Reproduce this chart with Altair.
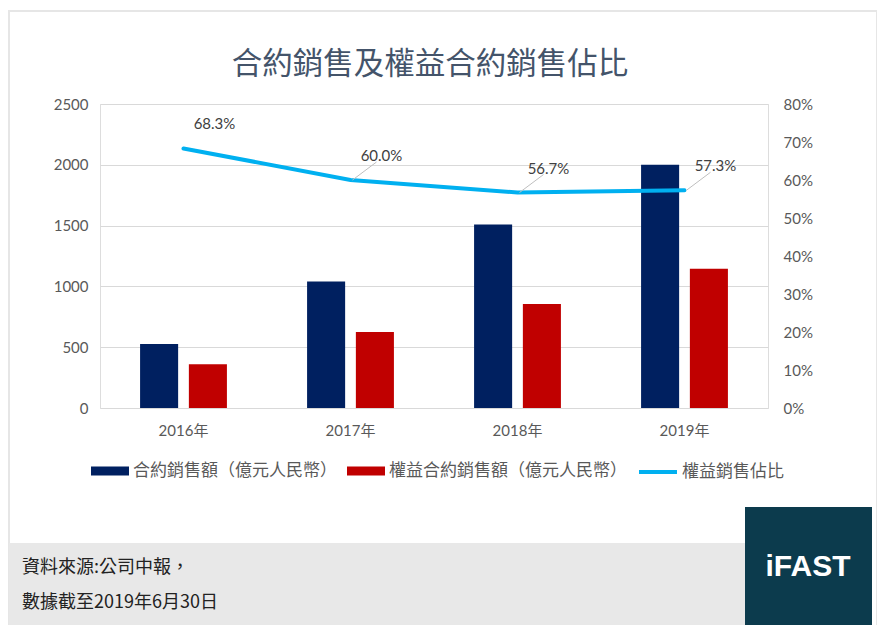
import altair as alt
import pandas as pd

# chart values
years = ["2016年", "2017年", "2018年", "2019年"]
contract_sales = [527, 1040, 1510, 2000]      # 合約銷售額（億元人民幣）
attrib_sales = [360, 624, 856, 1146]          # 權益合約銷售額（億元人民幣）
attrib_ratio = [0.683, 0.600, 0.567, 0.573]   # 權益銷售佔比

bar_names = ["合約銷售額（億元人民幣）", "權益合約銷售額（億元人民幣）"]
bar_colors = ["#002060", "#c00000"]
line_name = "權益銷售佔比"
line_color = "#00b0f0"

title_text = "合約銷售及權益合約銷售佔比"
source_lines = ["資料來源:公司中報，", "數據截至2019年6月30日"]
logo_text = "iFAST"

LATIN = "Lato, 'Noto Sans CJK TC', sans-serif"
CJK = "'Noto Sans CJK TC', sans-serif"
GREY = "#595959"

bar_df = pd.DataFrame({
    "year": years * 2,
    "series": [bar_names[0]] * 4 + [bar_names[1]] * 4,
    "value": contract_sales + attrib_sales,
})
line_df = pd.DataFrame({
    "year": years,
    "series": [line_name] * 4,
    "ratio": attrib_ratio,
})
one = pd.DataFrame({"k": [0]})

x_enc = alt.X(
    "year:N",
    sort=years,
    scale=alt.Scale(paddingInner=0.48, paddingOuter=0.24),
    axis=alt.Axis(title=None, labelAngle=0, domain=False, ticks=False,
                  labelPadding=15, labelFont=LATIN, labelFontSize=15, labelColor=GREY),
)

legend_common = dict(
    title=None, orient="none", direction="horizontal", legendY=347,
    labelFont=CJK, labelFontSize=17, labelColor=GREY, labelLimit=400,
    labelOffset=3, columnPadding=9, symbolSize=1444,
)

bars = alt.Chart(bar_df).mark_bar().encode(
    x=x_enc,
    xOffset=alt.XOffset("series:N", sort=bar_names,
                        scale=alt.Scale(paddingInner=0.22)),
    y=alt.Y("value:Q", scale=alt.Scale(domain=[0, 2500]),
            axis=alt.Axis(title=None, values=[0, 500, 1000, 1500, 2000, 2500], format="d",
                          domain=False, ticks=False, labelPadding=12,
                          labelFont=LATIN, labelFontSize=15, labelColor=GREY,
                          gridColor="#d9d9d9")),
    color=alt.Color("series:N", scale=alt.Scale(domain=bar_names, range=bar_colors),
                    legend=alt.Legend(legendX=-10, symbolType="M-1,-0.24H1V0.24H-1Z",
                                      **legend_common)),
)

y_ratio = alt.Y("ratio:Q", scale=alt.Scale(domain=[0, 0.8]),
                axis=alt.Axis(title=None, orient="right", format=".0%",
                              values=[0, 0.1, 0.2, 0.3, 0.4, 0.5, 0.6, 0.7, 0.8],
                              grid=False, domain=False, ticks=False, labelPadding=15,
                              labelFont=LATIN, labelFontSize=15, labelColor=GREY))

ratio_line = alt.Chart(line_df).mark_line(strokeWidth=4, strokeCap="round").encode(
    x=alt.X("year:N", sort=years), y=y_ratio,
    stroke=alt.Stroke("series:N", scale=alt.Scale(domain=[line_name], range=[line_color]),
                      legend=alt.Legend(legendX=537, symbolType="stroke",
                                        symbolStrokeWidth=4, **legend_common)),
)
leaders = alt.Chart(line_df).transform_filter(
    "datum.year != '2016年'"
).mark_rule(color="#bfbfbf", strokeWidth=1, xOffset=2, x2Offset=26, y2Offset=-18).encode(
    x=alt.X("year:N", sort=years), x2="year", y=y_ratio, y2="ratio",
)
labels = alt.Chart(line_df).mark_text(
    font=LATIN, fontSize=15, color="#404040", dx=31, dy=-24,
).encode(x=alt.X("year:N", sort=years), y=y_ratio, text=alt.Text("ratio:Q", format=".1%"))

ratio_layer = alt.layer(ratio_line, leaders, labels)

# card frame, title, footer band and logo box (view origin is the plot's top-left)
card = alt.Chart(one).mark_rect(fill=None, stroke="#e6e6e6", strokeWidth=2).encode(
    x=alt.value(-91), x2=alt.value(777), y=alt.value(-93), y2=alt.value(522))
title = alt.Chart(one).mark_text(
    font=CJK, fontSize=30.5, color="#44546a", baseline="middle",
).encode(x=alt.value(330), y=alt.value(-39), text=alt.value(title_text))
band = alt.Chart(one).mark_rect(color="#e8e8e8").encode(
    x=alt.value(-91), x2=alt.value(645), y=alt.value(439), y2=alt.value(521))
logo = alt.Chart(one).mark_rect(color="#0c3b4d").encode(
    x=alt.value(645), x2=alt.value(772), y=alt.value(403), y2=alt.value(522))
logo_label = alt.Chart(one).mark_text(
    font="Liberation Sans", fontSize=30, fontWeight="bold", color="white",
).encode(x=alt.value(708), y=alt.value(463), text=alt.value(logo_text))
src1 = alt.Chart(one).mark_text(font=CJK, fontSize=18, color="#222222", align="left").encode(
    x=alt.value(-78), y=alt.value(464), text=alt.value(source_lines[0]))
src2 = alt.Chart(one).mark_text(font=CJK, fontSize=18, color="#222222", align="left").encode(
    x=alt.value(-78), y=alt.value(499), text=alt.value(source_lines[1]))

chart = alt.layer(
    card, title, band, logo, bars, ratio_layer, logo_label, src1, src2
).resolve_scale(
    y="independent"
).properties(
    width=668, height=304,
    autosize=alt.AutoSizeParams(type="none"),
    padding={"left": 92, "top": 96, "right": 109, "bottom": 217},
).configure_view(stroke=None).configure(background="white")

chart.save("out.html", embed_options={"renderer": "svg", "actions": False})
